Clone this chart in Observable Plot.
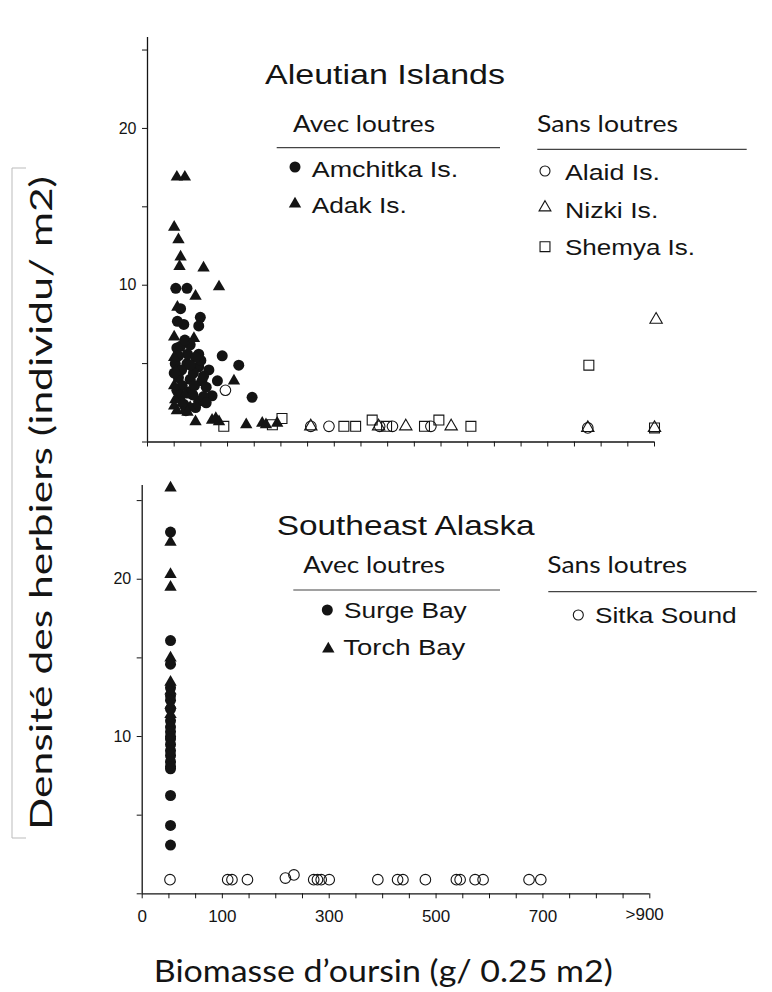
<!DOCTYPE html>
<html><head><meta charset="utf-8">
<script src="https://cdn.jsdelivr.net/npm/d3@7"></script>
<script src="https://cdn.jsdelivr.net/npm/@observablehq/plot@0.6"></script>
<style>
html,body{margin:0;padding:0;background:#fff;}
#wrap{position:relative;width:772px;height:992px;overflow:hidden;background:#fff;}
.layer{position:absolute;left:0;}
</style></head><body><div id="wrap"></div>
<script>
// ---------- DATA (biomass g/0.25 m2, kelp density /m2) ----------
// Aleutian Islands, with otters
const amchitka = [[3,9.8],[24,9.8],[12,8.5],[49,7.95],[46,7.4],[18,7.5],[6,7.7],[90,5.5],[121,4.9],[146,2.85],
  [65,4.6],[81,3.9],[71,2.95],[5,6.0],[12,6.1],[30,6.2],[46,5.6],[2,5.0],[24,5.0],[46,4.8],[8,4.1],[30,4.0],
  [52,3.9],[5,3.3],[28,3.2],[46,2.6],[18,2.4],[38,3.6],[60,3.5],[14,4.6],[36,4.4],[55,2.9],[22,2.0],[40,2.2],
  [0,4.4],[15,3.6],[35,3.0],[10,2.8],[25,5.6],[50,5.2],[40,5.4],[20,6.5],[8,5.5],[30,4.9],[55,4.2],[60,2.5],[12,3.0]];
const adak = [[5,16.9],[20,16.9],[0,13.7],[8,12.9],[12,11.8],[10,11.2],[55,11.1],[84,9.9],[40,9.3],[6,8.6],
  [37,6.6],[0,6.7],[0,5.4],[0,3.6],[2,2.7],[5,2.0],[112,3.9],[40,1.3],[71,1.4],[78,1.5],[84,1.3],[135,1.1],
  [165,1.2],[172,1.1],[193,1.2],[3,4.5],[20,3.0],[30,2.2],[15,2.5],[25,1.9],[0,2.3]];
// Aleutian Islands, without otters
const alaid = [[96,3.3],[256,1.0],[290,1.0],[385,1.0],[409,1.0],[481,1.0],[775,0.9]];
const nizki = [[256,1.0],[383,1.0],[434,1.0],[519,1.0],[775,0.9],[900,0.9],[903,7.8]];
const shemya = [[93,1.0],[184,1.1],[202,1.5],[318,1.0],[340,1.0],[371,1.4],[398,1.0],[469,1.0],[496,1.4],[556,1.0],[777,4.9],[900,0.9]];
// Southeast Alaska
const surgeBay = [[3,23.0],[3,16.1],[3,14.6],[3,13.1],[3,12.6],[3,12.3],[3,11.75],[3,11.0],[3,10.6],[3,10.3],[3,10.0],
  [3,9.85],[3,9.5],[3,9.1],[3,8.8],[3,8.4],[3,8.1],[3,7.95],[3,6.25],[3,4.35],[3,3.1]];
const torchBay = [[3,25.8],[3,22.35],[3,20.3],[3,19.5],[3,15.0],[3,13.45],[3,12.9],[3,12.0],[3,11.4]];
const sitkaSound = [[2,0.9],[110,0.9],[118,0.9],[147,0.9],[218,1.0],[234,1.2],[271,0.9],[278,0.9],[285,0.9],[300,0.9],
  [391,0.9],[428,0.9],[438,0.9],[480,0.9],[538,0.9],[545,0.9],[573,0.9],[588,0.9],[674,0.9],[696,0.9]];

// ---------- TICKS / LABELS ----------
const xTickValues = [-50,0,50,100,150,200,250,300,350,400,450,500,550,600,650,700,750,800,850,900];
const xTickLabels = {"-50":"0","100":"100","300":"300","500":"500","700":"700"};
const xLastLabel = [{x: 900, label: ">900"}];
const yTickValues = [0,5,10,15,20,25];
const yTickLabels = {"10":"10","20":"20"};
const xTitle = "Biomasse d’oursin (g/ 0.25 m2)";
const yTitle = "Densité des herbiers (individu/ m2)";
const panelTitles = ["Aleutian Islands","Southeast Alaska"];
const groupHeads = ["Avec loutres","Sans loutres"];
const aleutWith = ["Amchitka Is.","Adak Is."];
const aleutWithout = ["Alaid Is.","Nizki Is.","Shemya Is."];
const seakWith = ["Surge Bay","Torch Bay"];
const seakWithout = ["Sitka Sound"];

const INK = "#141414";
const filled = (data, symbol, r) => Plot.dot(data, {x: d => d[0], y: d => d[1], symbol, r, fill: INK, stroke: "none"});
const open = (data, symbol, r) => Plot.dot(data, {x: d => d[0], y: d => d[1], symbol, r, fill: "none", stroke: INK, strokeWidth: 1.1});

const wrap = document.getElementById("wrap");
function place(node, top) { const d = document.createElement("div"); d.className = "layer"; d.style.top = top + "px"; d.appendChild(node); wrap.appendChild(d); }

const commonStyle = {fontFamily: "'Liberation Sans', Arial, sans-serif", color: INK, background: "transparent", overflow: "visible"};

// ---------- TOP PANEL ----------
const topPlot = Plot.plot({
  width: 772, height: 460,
  marginLeft: 147, marginRight: 118, marginTop: 37, marginBottom: 18.5,
  x: {domain: [-50, 900], axis: null},
  y: {domain: [0, 25.8], axis: null},
  style: {...commonStyle, fontSize: "16px"},
  marks: [
    Plot.ruleX([-50], {stroke: INK, strokeWidth: 1.3}),
    Plot.ruleY([0], {stroke: INK, strokeWidth: 1.3}),
    Plot.axisX({ticks: xTickValues, tickSize: 5, tickFormat: () => "", label: null, stroke: INK}),
    Plot.axisY({ticks: yTickValues, tickSize: 5, tickPadding: 6, tickFormat: d => yTickLabels[d] ?? "", label: null, stroke: INK, fontSize: 16}),
    open(shemya, "square", 5.6),
    open(nizki, "triangle", 4.6),
    open(alaid, "circle", 5.3),
    filled(amchitka, "circle", 5.5),
    filled(adak, "triangle", 4.6)
  ]
});
place(topPlot, 0);

// ---------- BOTTOM PANEL ----------
const botPlot = Plot.plot({
  width: 772, height: 470,
  marginLeft: 141.7, marginRight: 122.7, marginTop: 15, marginBottom: 46.7,
  x: {domain: [-50, 900], axis: null},
  y: {domain: [0, 25.96], axis: null},
  style: {...commonStyle, fontSize: "17px"},
  marks: [
    Plot.ruleX([-50], {stroke: INK, strokeWidth: 1.3}),
    Plot.ruleY([0], {stroke: INK, strokeWidth: 1.3}),
    Plot.axisX({ticks: xTickValues, tickSize: 5, tickPadding: 11, tickFormat: d => xTickLabels[d] ?? "", label: null, stroke: INK, fontSize: 17}),
    Plot.text(xLastLabel, {x: "x", text: "label", frameAnchor: "bottom", textAnchor: "end", dx: 14, dy: 26, fontSize: 17, fill: INK}),
    Plot.axisY({ticks: yTickValues, tickSize: 5, tickPadding: 6, tickFormat: d => yTickLabels[d] ?? "", label: null, stroke: INK, fontSize: 16}),
    open(sitkaSound, "circle", 5.3),
    filled(surgeBay, "circle", 5.5),
    filled(torchBay, "triangle", 4.6)
  ]
});
place(botPlot, 470);

// ---------- OVERLAY: titles + legends ----------
const svg = d3.create("svg").attr("width", 772).attr("height", 992)
  .style("position", "absolute").style("left", "0").style("top", "0").style("pointer-events", "none");
const HELV = "'Liberation Sans', Arial, sans-serif";
const CAL = "Lato, 'Open Sans', sans-serif";
function txt(s, x, y, len, size, fam) {
  return svg.append("text").attr("x", x).attr("y", y).attr("textLength", len).attr("lengthAdjust", "spacingAndGlyphs")
    .attr("font-size", size).attr("font-family", fam).attr("fill", INK).text(s);
}
function sym(type, x, y, r, isFilled) {
  const size = Math.PI * r * r;
  svg.append("path").attr("transform", `translate(${x},${y})`).attr("d", d3.symbol(type, size)())
    .attr("fill", isFilled ? INK : "none").attr("stroke", isFilled ? "none" : INK).attr("stroke-width", 1.1);
}
function hline(x1, x2, y) { svg.append("line").attr("x1", x1).attr("x2", x2).attr("y1", y).attr("y2", y).attr("stroke", "#444").attr("stroke-width", 1.2); }

// top legend
txt(panelTitles[0], 265, 84, 240, 27.5, HELV);
txt(groupHeads[0], 293, 131.7, 142, 23, CAL);
txt(groupHeads[1], 537, 131.7, 141, 23, CAL);
hline(276.7, 500, 147.7); hline(537.3, 746.7, 149.3);
sym(d3.symbolCircle, 295, 167, 5.5, true); txt(aleutWith[0], 311.7, 176.7, 146.6, 22, HELV);
sym(d3.symbolTriangle, 295, 204, 4.6, true); txt(aleutWith[1], 311.7, 213.3, 95, 22, HELV);
sym(d3.symbolCircle, 545, 171, 5, false); txt(aleutWithout[0], 565, 180, 95, 22, HELV);
sym(d3.symbolTriangle, 545, 207.5, 4.4, false); txt(aleutWithout[1], 565, 218.3, 93.3, 22, HELV);
sym(d3.symbolSquare, 545, 246.7, 5.6, false); txt(aleutWithout[2], 565, 255, 130, 22, HELV);

// bottom legend
txt(panelTitles[1], 276.7, 535, 258, 27.5, HELV);
txt(groupHeads[0], 303.3, 572.7, 141.7, 23, CAL);
txt(groupHeads[1], 547.3, 572.7, 140, 23, CAL);
hline(293.3, 500, 590); hline(548.3, 756.7, 591.7);
sym(d3.symbolCircle, 327.3, 610, 5.5, true); txt(seakWith[0], 344, 618.3, 122.7, 22, HELV);
sym(d3.symbolTriangle, 328.3, 649, 4.6, true); txt(seakWith[1], 343.3, 655, 122, 22, HELV);
sym(d3.symbolCircle, 578.3, 615, 5, false); txt(seakWithout[0], 595, 623.3, 141.7, 22, HELV);

// axis titles
txt(xTitle, 153.8, 982, 459, 30, CAL);
svg.append("text").attr("transform", "translate(52,830) rotate(-90)").attr("textLength", 654).attr("lengthAdjust", "spacingAndGlyphs")
  .attr("font-size", 31).attr("font-family", CAL).attr("fill", INK).text(yTitle);
// text-box border remnant at left
svg.append("path").attr("d", "M26,168H12V838H26").attr("fill", "none").attr("stroke", "#bbb").attr("stroke-width", 1);

wrap.appendChild(svg.node());
</script></body></html>
